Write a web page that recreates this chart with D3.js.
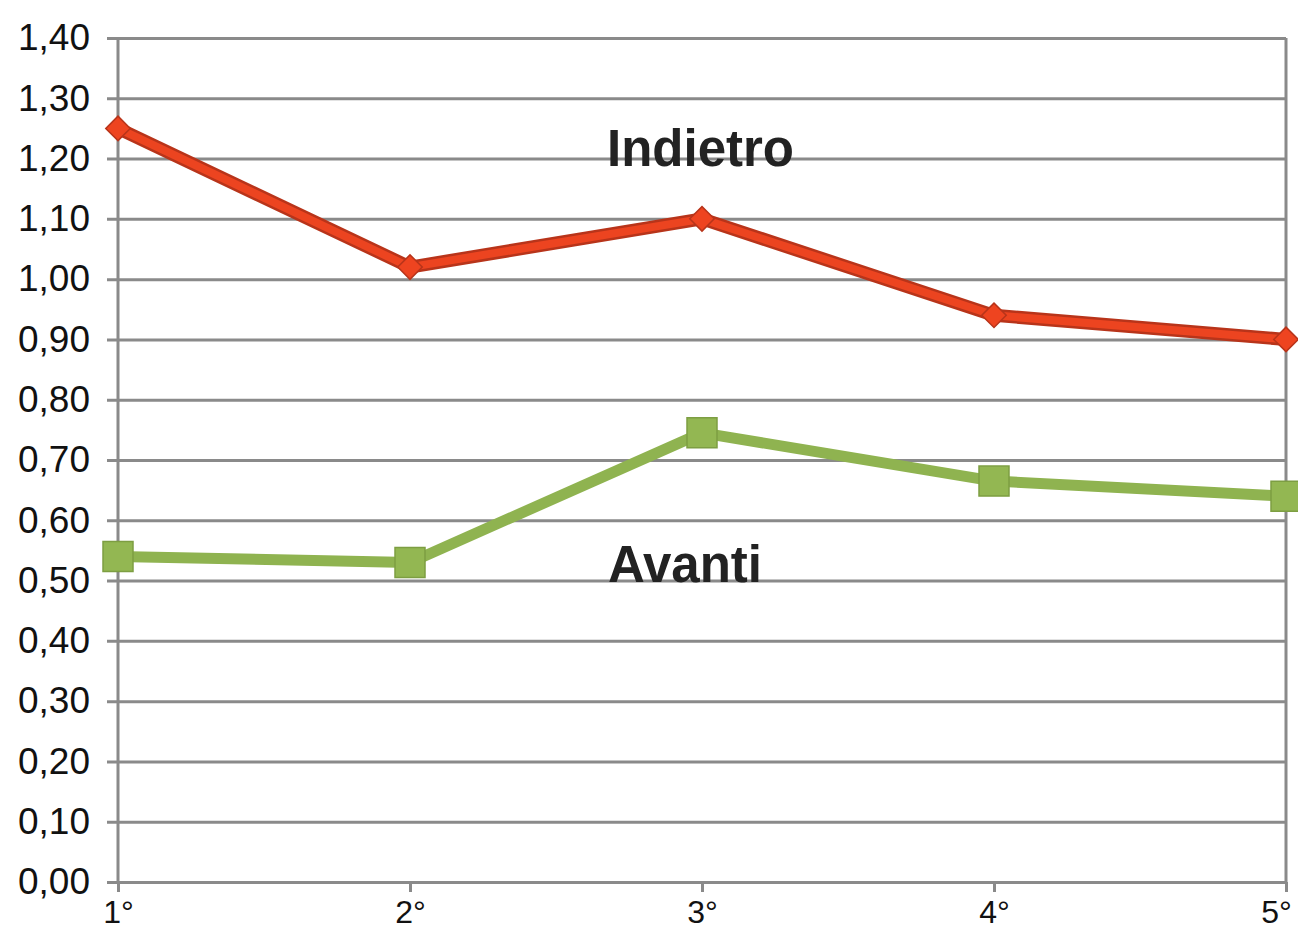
<!DOCTYPE html>
<html>
<head>
<meta charset="utf-8">
<script src="https://cdn.jsdelivr.net/npm/d3@7"></script>
<style>
body { margin: 0; background: #fff; }
</style>
</head>
<body>
<script>
// chart data
let categories = ["1°", "2°", "3°", "4°", "5°"];
let indietro = [1.25, 1.02, 1.10, 0.94, 0.90];
let avanti = [0.54, 0.53, 0.745, 0.665, 0.64];
let yTicks = [0, 0.1, 0.2, 0.3, 0.4, 0.5, 0.6, 0.7, 0.8, 0.9, 1.0, 1.1, 1.2, 1.3, 1.4];

let svg = d3.select("body").append("svg")
	.attr("width", 1298)
	.attr("height", 940);

let margin = { top: 38, right: 12, bottom: 58, left: 118 };
let innerWidth = 1298 - margin.left - margin.right;
let innerHeight = 940 - margin.top - margin.bottom;

let scaleX = d3.scalePoint()
	.domain(categories)
	.range([0, innerWidth]);

let scaleY = d3.scaleLinear()
	.domain([0, 1.4])
	.range([innerHeight, 0]);

let fmt = d => d3.format(".2f")(d).replace(".", ",");

let g = svg.append("g")
	.attr("transform", `translate(${margin.left}, ${margin.top})`);

//horizontal grid lines, ticks stick out to the left
let yAxis = d3.axisLeft(scaleY)
	.tickValues(yTicks)
	.tickSize(-innerWidth)
	.tickSizeOuter(0)
	.tickFormat(fmt);

let yG = g.append("g").call(yAxis);
yG.select(".domain").remove();
yG.selectAll(".tick line")
	.attr("stroke", "#8a8a8a")
	.attr("stroke-width", 3)
	.attr("x1", -11);
yG.selectAll(".tick text")
	.attr("font-family", "'Liberation Sans', Arial, sans-serif")
	.attr("font-size", 37)
	.attr("fill", "#111")
	.attr("x", -28);

//left and right borders
g.append("line")
	.attr("x1", 0).attr("x2", 0)
	.attr("y1", 0).attr("y2", innerHeight)
	.attr("stroke", "#8a8a8a").attr("stroke-width", 3);
g.append("line")
	.attr("x1", innerWidth).attr("x2", innerWidth)
	.attr("y1", 0).attr("y2", innerHeight)
	.attr("stroke", "#8a8a8a").attr("stroke-width", 3);

let xAxis = d3.axisBottom(scaleX)
	.tickSize(10)
	.tickSizeOuter(0)
	.tickPadding(8);

let xG = g.append("g")
	.attr("transform", `translate(0, ${innerHeight})`)
	.call(xAxis);
xG.select(".domain")
	.attr("stroke", "#8a8a8a").attr("stroke-width", 3);
xG.selectAll(".tick line")
	.attr("stroke", "#8a8a8a").attr("stroke-width", 3);
xG.selectAll(".tick text")
	.attr("font-family", "'Liberation Sans', Arial, sans-serif")
	.attr("font-size", 32)
	.attr("fill", "#111")
	.attr("dx", (d, i) => i === categories.length - 1 ? -10 : 0); //keep last label inside

let line = d3.line()
	.x((d, i) => scaleX(categories[i]))
	.y(d => scaleY(d));

//Indietro series (red, diamonds)
g.append("path")
	.datum(indietro)
	.attr("fill", "none")
	.attr("stroke", "#b8341a")
	.attr("stroke-width", 13)
	.attr("stroke-linejoin", "round")
	.attr("d", line);
g.append("path")
	.datum(indietro)
	.attr("fill", "none")
	.attr("stroke", "#ec4420")
	.attr("stroke-width", 8)
	.attr("stroke-linejoin", "round")
	.attr("d", line);
g.selectAll(".diamond")
	.data(indietro)
	.enter().append("path")
	.attr("class", "diamond")
	.attr("transform", (d, i) => `translate(${scaleX(categories[i])}, ${scaleY(d)}) rotate(45)`)
	.attr("d", d3.symbol().type(d3.symbolSquare).size(300))
	.attr("fill", "#ee4420")
	.attr("stroke", "#b8341a")
	.attr("stroke-width", 1.5);

//Avanti series (green, squares)
g.append("path")
	.datum(avanti)
	.attr("fill", "none")
	.attr("stroke", "#8fb350")
	.attr("stroke-width", 11)
	.attr("stroke-linejoin", "round")
	.attr("d", line);
g.selectAll(".square")
	.data(avanti)
	.enter().append("path")
	.attr("class", "square")
	.attr("transform", (d, i) => `translate(${scaleX(categories[i])}, ${scaleY(d)})`)
	.attr("d", d3.symbol().type(d3.symbolSquare).size(900))
	.attr("fill", "#93b752")
	.attr("stroke", "#7d9e42")
	.attr("stroke-width", 1.5);

//series labels
g.append("text")
	.attr("font-family", "'Liberation Sans', Arial, sans-serif")
	.attr("font-weight", "bold")
	.attr("font-size", 51)
	.attr("fill", "#222")
	.attr("x", 607 - margin.left)
	.attr("y", 166 - margin.top)
	.text("Indietro");

g.append("text")
	.attr("font-family", "'Liberation Sans', Arial, sans-serif")
	.attr("font-weight", "bold")
	.attr("font-size", 51)
	.attr("fill", "#222")
	.attr("x", 608 - margin.left)
	.attr("y", 582 - margin.top)
	.text("Avanti");
</script>
</body>
</html>
